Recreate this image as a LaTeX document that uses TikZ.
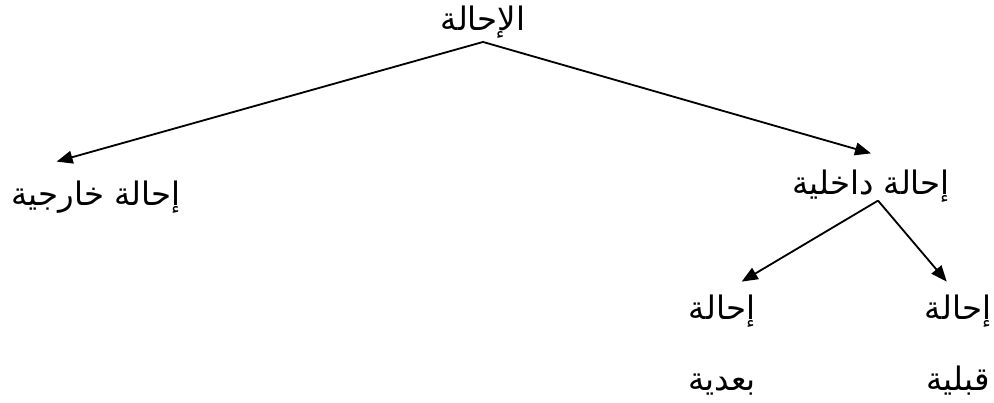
\documentclass[tikz,border=0pt]{standalone}
\usepackage{fontspec}
\newfontfamily\arabicfont[Script=Arabic]{DejaVu Sans}
\TeXXeTstate=1
\usetikzlibrary{arrows.meta}

\begin{document}
\begin{tikzpicture}[
    x=0.025cm, y=-0.025cm,
    term/.style={font=\arabicfont\fontsize{23}{50}\selectfont, inner sep=0pt, align=center},
    >={Triangle[length=4mm, width=3.2mm]}, line width=1.3pt
  ]
  \useasboundingbox (0,0) rectangle (994,402);
  \node[term] (ref) at (483,22) {\beginR الإحالة\endR};
  \node[term] (ext) at (96,197) {\beginR إحالة خارجية\endR};
  \node[term] (int) at (871,186) {\beginR إحالة داخلية\endR};
  \node[term] (post) at (722,345) {\beginR إحالة\endR\\\beginR بعدية\endR};
  \node[term] (pre) at (958,345) {\beginR إحالة\endR\\\beginR قبلية\endR};
  \draw[->] ([yshift=-2pt]ref.south) -- ([xshift=-28pt,yshift=13pt]ext.north);
  \draw[->] ([yshift=-2pt]ref.south) -- ([yshift=11pt]int.north);
  \draw[->] ([xshift=5pt,yshift=1.8pt]int.south) -- ([xshift=14pt,yshift=9pt]post.north);
  \draw[->] ([xshift=5pt,yshift=1.8pt]int.south) -- ([xshift=-8pt,yshift=9pt]pre.north);
\end{tikzpicture}
\end{document}
